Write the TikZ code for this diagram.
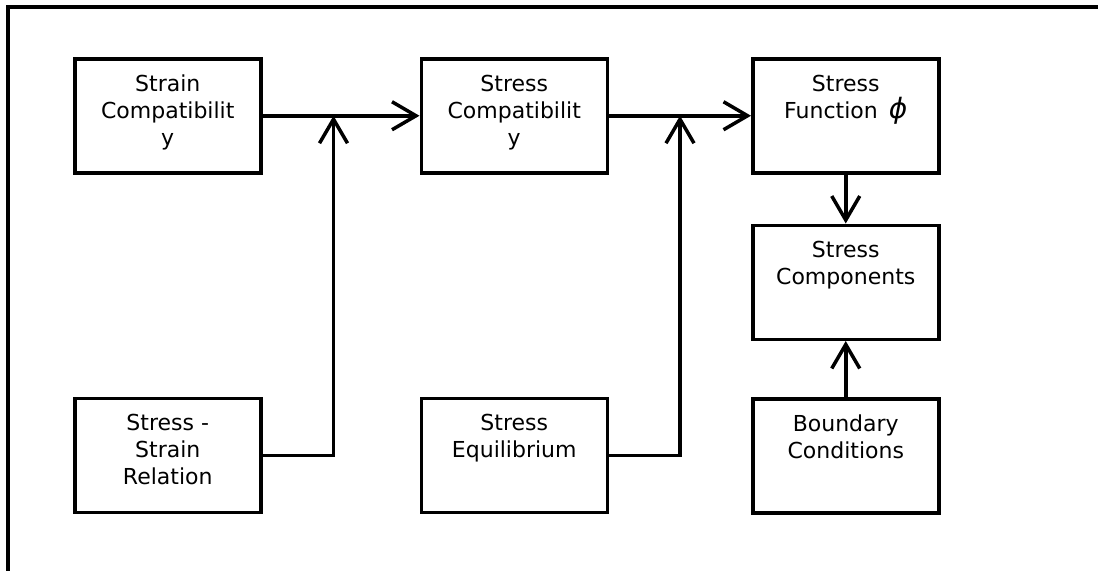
\documentclass[tikz,border=0pt]{standalone}
\usepackage{fontspec}
\setmainfont{DejaVu Sans}
\usetikzlibrary{positioning,arrows.meta}

\newcommand{\blocktext}[1]{\parbox[c][114pt][t]{186pt}{\centering\vspace*{16pt}#1}}

\begin{document}
\begin{tikzpicture}[x=1pt, y=-1pt,
        blockbox/.style={draw, line width=3.5pt, inner sep=0pt, font=\fontsize{22}{27}\selectfont},
        flow/.style={line width=3.5pt, -{Straight Barb[length=24pt, width=28pt]}}]

        \useasboundingbox (0,0) rectangle (1098,571);
        \draw[line width=4pt] (1098,7) -- (8,7) -- (8,571);

        \node[blockbox, anchor=north west] (straincomp) at (73,57) {\blocktext{Strain\\Compatibilit\\y}};
        \node[blockbox] (stresscomp) [right=157pt of straincomp] {\blocktext{Stress\\Compatibilit\\y}};
        \node[blockbox] (stressfunc) [right=142pt of stresscomp] {\blocktext{Stress\\Function\hspace{0.5em}{\fontsize{28}{27}\selectfont\textit{ϕ}}}};
        \node[blockbox] (components) [below=49pt of stressfunc] {\blocktext{Stress\\Components}};
        \node[blockbox] (boundary) [below=56pt of components] {\blocktext{Boundary\\Conditions}};
        \node[blockbox] (relation) [below=222pt of straincomp] {\blocktext{Stress -\\Strain\\Relation}};
        \node[blockbox] (equilib) [right=157pt of relation] {\blocktext{Stress\\Equilibrium}};

        \coordinate[right=71pt of straincomp.east] (join1);
        \coordinate[right=71pt of stresscomp.east] (join2);

        \draw[flow] (straincomp) -- (stresscomp);
        \draw[flow] (stresscomp) -- (stressfunc);
        \draw[flow] (relation) -| (join1);
        \draw[flow] (equilib) -| (join2);
        \draw[flow] (stressfunc) -- (components);
        \draw[flow] (boundary) -- (components);

        \end{tikzpicture}
\end{document}
